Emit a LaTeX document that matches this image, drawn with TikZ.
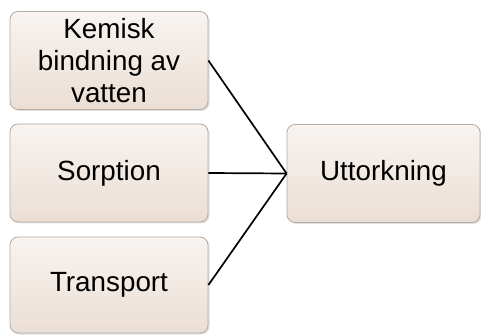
\documentclass[tikz,border=0pt]{standalone}
\usepackage{fontspec}
\setmainfont{Liberation Sans}
\usetikzlibrary{shadows}
\definecolor{boxtop}{HTML}{F8F4F1}
\definecolor{boxbot}{HTML}{EBDED4}
\definecolor{boxline}{HTML}{B5ABA4}
\tikzset{
  card/.style={draw=boxline, line width=0.8pt, rounded corners=8pt,
    top color=boxtop, bottom color=boxbot,
    drop shadow={shadow xshift=1.5pt, shadow yshift=-1.5pt, opacity=0.25},
    minimum width=198pt, minimum height=98pt, inner sep=0pt,
    align=center, font=\fontsize{27.8}{31.8}\selectfont},
  link/.style={draw=black, line width=1.7pt}
}
\begin{document}
\begin{tikzpicture}[x=1pt,y=-1pt]
\useasboundingbox (0,0) rectangle (481,336);
\node[card] (kem) at (109,60.5) {Kemisk\\bindning av\\vatten};
\node[card] (sorp) at (109,173) {Sorption};
\node[card, minimum height=96pt] (trans) at (109,285) {Transport};
\node[card, minimum width=193pt] (utt) at (383.5,173.5) {Uttorkning};
\draw[link] (kem.east) -- (utt.west);
\draw[link] (sorp.east) -- (utt.west);
\draw[link] (trans.east) -- (utt.west);
\end{tikzpicture}
\end{document}
